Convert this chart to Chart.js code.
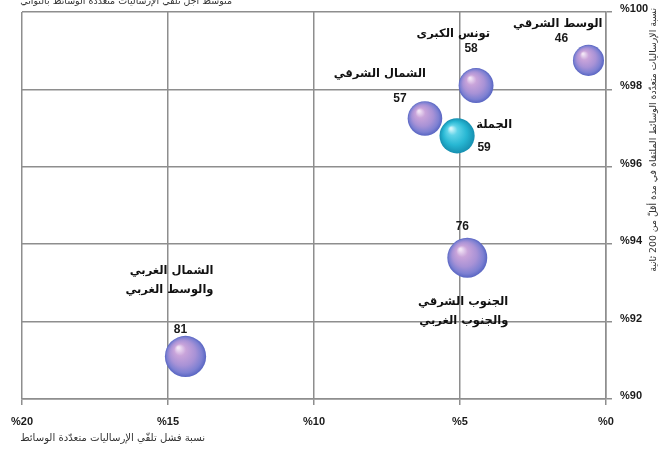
<!DOCTYPE html>
<html lang="ar">
<head>
<meta charset="utf-8">
<script src="https://cdn.jsdelivr.net/npm/chart.js@4.4.1/dist/chart.umd.min.js"></script>
<style>
  html, body { margin: 0; padding: 0; background: #ffffff; }
  #wrap { width: 667px; height: 450px; position: relative; }
</style>
</head>
<body>
<div id="wrap"><canvas id="c" width="667" height="450"></canvas></div>
<script>
// ---- data ----
const regionLines = [
  ['الوسط الشرقي'],
  ['تونس الكبرى'],
  ['الشمال الشرقي'],
  ['الجنوب الشرقي', 'والجنوب الغربي'],
  ['الشمال الغربي', 'والوسط الغربي'],
  ['الجملة']
];
const failRate = [0.6, 4.45, 6.2, 4.75, 14.4, 5.1];        // % failure (x)
const under200 = [98.75, 98.1, 97.25, 93.65, 91.1, 96.8];  // % received in < 200 s (y)
const avgTime  = [46, 58, 57, 76, 81, 59];                 // average reception time (s)
const xTicks = [0, 5, 10, 15, 20];
const yTicks = [90, 92, 94, 96, 98, 100];
const topTitle = 'متوسط أجل تلقي الإرساليات متعددة الوسائط بالثواني';
const xTitle = 'نسبة فشل تلقّي الإرساليات متعدّدة الوسائط';
const yTitle = 'نسبة الإرساليات متعدّدة الوسائط الملتقاة في مدة أقلّ من 200 ثانية';

// ---- label placement (pixel offsets from bubble centre) ----
const nameOffset = [[14, -36], [14, -52], [1, -44], [41, 44], [28, -85], [55, -11]];
const lineGap = 19;
const numOffset = [[-27, -22], [-5, -37], [-25, -20], [-5, -31], [-5, -27], [27, 12]];
const totalIndex = 5;

const radiusOf = v => 2.29 * Math.sqrt(v);

function bubbleFill(context) {
  const chart = context.chart;
  const i = context.dataIndex;
  const sx = chart.scales.x, sy = chart.scales.y;
  if (i === undefined || !sx || !sy) return '#a692d6';
  const x = sx.getPixelForValue(failRate[i]);
  const y = sy.getPixelForValue(under200[i]);
  const r = radiusOf(avgTime[i]);
  if (!isFinite(x) || !isFinite(y)) return '#a692d6';
  const g = chart.ctx.createRadialGradient(x - r * 0.35, y - r * 0.42, r * 0.05, x, y, r);
  if (i === totalIndex) {
    g.addColorStop(0, '#d4f6fb');
    g.addColorStop(0.25, '#5fd3e8');
    g.addColorStop(0.65, '#27b7d3');
    g.addColorStop(1, '#168fb0');
  } else {
    g.addColorStop(0, '#f1e4f5');
    g.addColorStop(0.25, '#c9a4da');
    g.addColorStop(0.6, '#a892d6');
    g.addColorStop(0.85, '#7d80d2');
    g.addColorStop(1, '#5865c2');
  }
  return g;
}

function fitFont(ctx, text, width, family) {
  ctx.font = '10px ' + family;
  const w = ctx.measureText(text).width;
  const size = Math.min(12, 10 * width / w);
  ctx.font = size.toFixed(2) + 'px ' + family;
}

const textPlugin = {
  id: 'texts',
  afterDatasetsDraw(chart) {
    const ctx = chart.ctx;
    const sx = chart.scales.x, sy = chart.scales.y;
    ctx.save();
    for (let i = 0; i < avgTime.length; i++) {
      const px = sx.getPixelForValue(failRate[i]);
      const py = sy.getPixelForValue(under200[i]);
      // region name
      ctx.font = 'bold 11.5px "DejaVu Sans"';
      ctx.fillStyle = '#111111';
      ctx.direction = 'rtl';
      ctx.textAlign = 'right';
      ctx.textBaseline = 'middle';
      regionLines[i].forEach((ln, k) => {
        ctx.fillText(ln, px + nameOffset[i][0], py + nameOffset[i][1] + k * lineGap);
      });
      // value
      ctx.direction = 'ltr';
      ctx.font = 'bold 12px "Liberation Sans"';
      ctx.textAlign = 'center';
      ctx.fillStyle = '#1a1a1a';
      ctx.fillText(String(avgTime[i]), px + numOffset[i][0], py + numOffset[i][1]);
    }
    ctx.restore();
  },
  afterDraw(chart) {
    const ctx = chart.ctx;
    const area = chart.chartArea;
    ctx.save();
    ctx.direction = 'rtl';
    ctx.fillStyle = '#333333';
    // top (cropped) title
    fitFont(ctx, topTitle, 212, '"DejaVu Sans"');
    ctx.textAlign = 'right';
    ctx.textBaseline = 'alphabetic';
    ctx.fillText(topTitle, 232, 4);
    // x title
    fitFont(ctx, xTitle, 185, '"DejaVu Sans"');
    ctx.textBaseline = 'middle';
    ctx.fillText(xTitle, 205, 438);
    // y title (rotated)
    fitFont(ctx, yTitle, 264, '"DejaVu Sans"');
    ctx.translate(area.right + 48, 8);
    ctx.rotate(-Math.PI / 2);
    ctx.textAlign = 'right';
    ctx.textBaseline = 'middle';
    ctx.fillText(yTitle, 0, 0);
    ctx.restore();
  }
};

const tickFont = { family: '"Liberation Sans"', size: 11, weight: 'bold' };

new Chart(document.getElementById('c'), {
  type: 'bubble',
  data: {
    datasets: [{
      data: failRate.map((v, i) => ({ x: v, y: under200[i], r: radiusOf(avgTime[i]) })),
      backgroundColor: bubbleFill,
      borderWidth: 0,
      hoverBorderWidth: 0
    }]
  },
  options: {
    responsive: false,
    animation: false,
    events: [],
    layout: { autoPadding: false, padding: { left: 22, top: 12, right: 0, bottom: 0 } },
    plugins: { legend: { display: false }, tooltip: { enabled: false } },
    scales: {
      x: {
        type: 'linear',
        reverse: true,
        min: 0, max: 20,
        afterBuildTicks: s => { s.ticks = xTicks.map(v => ({ value: v })); },
        afterFit: s => { s.height = 51; s.paddingLeft = 0; s.paddingRight = 0; },
        grid: { color: '#8e8e8e', lineWidth: 1.5, tickLength: 6, tickColor: '#8e8e8e' },
        border: { display: true, color: '#8e8e8e', width: 1.5 },
        ticks: { callback: v => '%' + v, font: tickFont, color: '#1a1a1a', padding: 10, maxRotation: 0 }
      },
      y: {
        type: 'linear',
        position: 'right',
        min: 90, max: 100,
        afterBuildTicks: s => { s.ticks = yTicks.map(v => ({ value: v })); },
        afterFit: s => { s.width = 61; s.paddingTop = 0; s.paddingBottom = 0; },
        grid: { color: '#8e8e8e', lineWidth: 1.5, tickLength: 6, tickColor: '#8e8e8e' },
        border: { display: true, color: '#8e8e8e', width: 1.5 },
        ticks: { callback: v => '%' + v, font: tickFont, color: '#1a1a1a', padding: 8, labelOffset: -3 }
      }
    }
  },
  plugins: [textPlugin]
});
</script>
</body>
</html>
